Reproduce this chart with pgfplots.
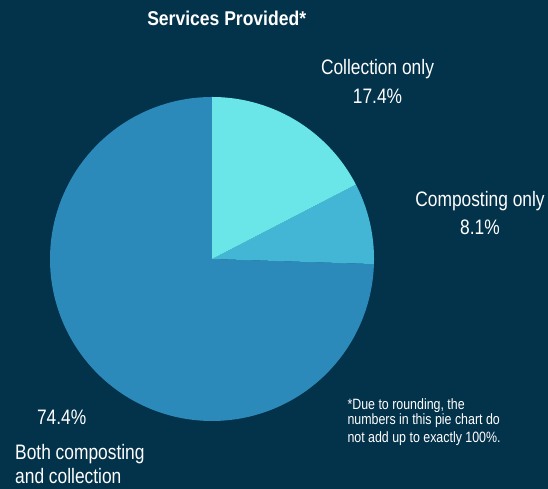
\documentclass[border=0pt]{standalone}
\usepackage{pgfplots}
\pgfplotsset{compat=1.18}
\usepackage{fontspec}
\setmainfont{Liberation Sans}[FakeStretch=0.83]
\newfontfamily\titlefont{Liberation Sans}[FakeStretch=0.88]
\definecolor{bg}{RGB}{3,50,75}
\definecolor{cA}{RGB}{106,230,232}
\definecolor{cB}{RGB}{66,182,212}
\definecolor{cC}{RGB}{44,138,186}
% shares in percent
\def\pA{17.4}% Collection only
\def\pB{8.1}% Composting only
\def\pC{74.4}% Both composting and collection
\pgfmathsetmacro\aA{90}
\pgfmathsetmacro\aB{90-3.6*\pA}
\pgfmathsetmacro\aC{\aB-3.6*\pB}
\pgfmathsetmacro\aD{90-360}
\begin{document}
\begin{tikzpicture}[x=1bp,y=1bp]
\fill[bg] (0,0) rectangle (548,489);
\begin{axis}[at={(0,0)}, anchor=south west, scale only axis,
  width=548bp, height=489bp, xmin=0, xmax=548, ymin=0, ymax=489,
  hide axis, clip=false]
\addplot[draw=none, fill=cC, domain=\aD:\aC, samples=200, variable=\t]
  ({212+162*cos(\t)},{230+162*sin(\t)}) -- (212,230) -- cycle;
\addplot[draw=none, fill=cB, domain=\aC:\aB, samples=40, variable=\t]
  ({212+162*cos(\t)},{230+162*sin(\t)}) -- (212,230) -- cycle;
\addplot[draw=none, fill=cA, domain=\aB:\aA, samples=60, variable=\t]
  ({212+162*cos(\t)},{230+162*sin(\t)}) -- (212,230) -- cycle;
\begin{scope}[every node/.style={text=white, inner sep=0pt, anchor=base}]
\node at (226.7,463) {\titlefont\bfseries\fontsize{20}{24}\selectfont Services Provided*};
\node at (377.5,414.7) {\fontsize{21}{25}\selectfont Collection only};
\node at (377.5,385.7) {\fontsize{21}{25}\selectfont 17.4\%};
\node at (480,282.3) {\fontsize{21}{25}\selectfont Composting only};
\node at (480,254) {\fontsize{21}{25}\selectfont 8.1\%};
\node at (61.7,64) {\fontsize{21}{25}\selectfont 74.4\%};
\node[anchor=base west] at (15,29) {\fontsize{21}{25}\selectfont Both composting};
\node[anchor=base west] at (15,5) {\fontsize{21}{25}\selectfont and collection};
\node[anchor=base west] at (347.3,79.7) {\fontsize{15}{18}\selectfont *Due to rounding, the};
\node[anchor=base west] at (347.3,64) {\fontsize{15}{18}\selectfont numbers in this pie chart do};
\node[anchor=base west] at (347.3,46.7) {\fontsize{15}{18}\selectfont not add up to exactly 100\%.};
\end{scope}
\end{axis}
\end{tikzpicture}
\end{document}
